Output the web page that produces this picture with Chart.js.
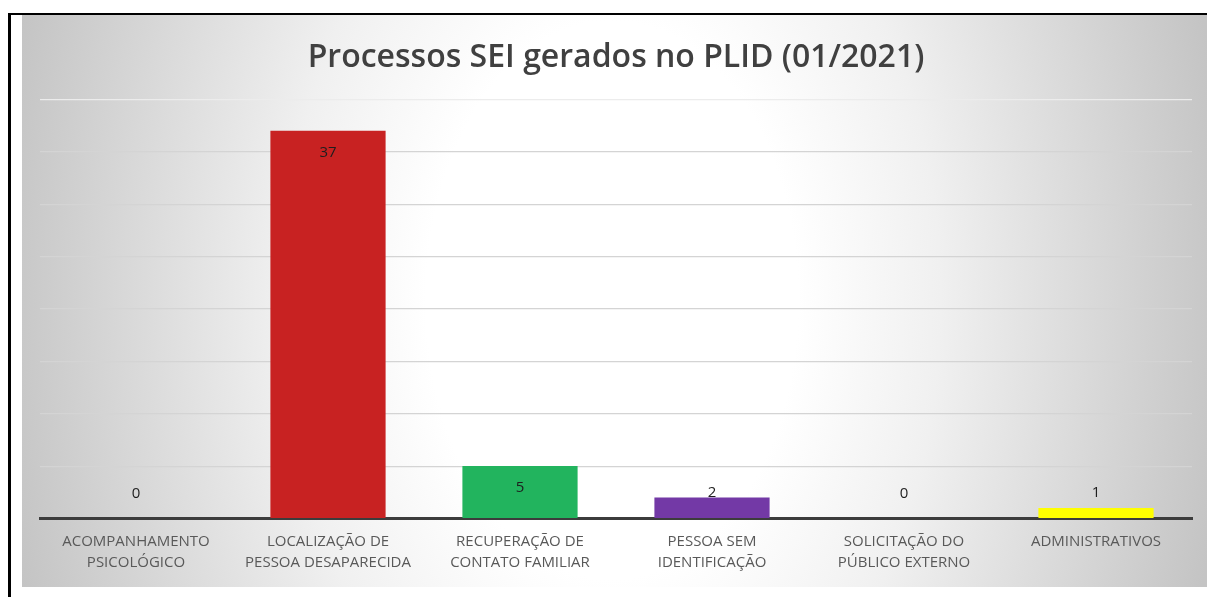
<!DOCTYPE html>
<html lang="pt-BR">
<head>
<meta charset="utf-8">
<title>Processos SEI gerados no PLID (01/2021)</title>
<script src="https://cdn.jsdelivr.net/npm/chart.js@4/dist/chart.umd.min.js"></script>
<style>
  html, body { margin:0; padding:0; background:#fff; }
  #wrap { width:1207px; height:597px; position:relative; }
</style>
</head>
<body>
<div id="wrap"><canvas id="plidChart"></canvas></div>
<script>
// Dados do gráfico
const categorias = [
  ['ACOMPANHAMENTO', 'PSICOLÓGICO'],
  ['LOCALIZAÇÃO DE', 'PESSOA DESAPARECIDA'],
  ['RECUPERAÇÃO DE', 'CONTATO FAMILIAR'],
  ['PESSOA SEM', 'IDENTIFICAÇÃO'],
  ['SOLICITAÇÃO DO', 'PÚBLICO EXTERNO'],
  ['ADMINISTRATIVOS']
];
const processos = [0, 37, 5, 2, 0, 1];
const cores = ['#5b9bd5', '#c82222', '#22b45e', '#7339a6', '#ffff00', '#ffff00'];
const eixoY = { min: 0, max: 40, passo: 5 };

// fundo: moldura preta + gradiente cinza da área do gráfico
const fundoPlugin = {
  id: 'fundo',
  beforeDraw(chart){
    const c = chart.ctx;
    c.save();
    c.fillStyle = '#fff';
    c.fillRect(0, 0, chart.width, chart.height);
    c.fillStyle = '#000';
    c.fillRect(8, 13, 3, chart.height - 13);
    c.fillRect(8, 13, chart.width - 8, 2);
    c.translate(612, 300);
    c.scale(1, 1.5);
    const g = c.createRadialGradient(0, 0, 0, 0, 0, 620);
    g.addColorStop(0, '#ffffff');
    g.addColorStop(0.3, '#ffffff');
    g.addColorStop(0.53, '#f0f0f0');
    g.addColorStop(0.7, '#e0e0e0');
    g.addColorStop(1, '#c4c4c4');
    c.fillStyle = g;
    c.fillRect(22 - 612, (15 - 300) / 1.5, 1207 - 22, (587 - 15) / 1.5);
    c.restore();
  }
};

// rótulos de valor ("extremidade interna" do Excel)
const rotulosPlugin = {
  id: 'rotulos',
  afterDatasetsDraw(chart){
    const c = chart.ctx;
    const meta = chart.getDatasetMeta(0);
    c.save();
    c.font = '15px "Open Sans", sans-serif';
    c.fillStyle = '#1e1e1e';
    c.textAlign = 'center';
    c.textBaseline = 'middle';
    meta.data.forEach((bar, i) => {
      const y = Math.min(bar.y + 22, bar.base - 25);
      c.fillText(String(processos[i]), bar.x, y);
    });
    c.restore();
  }
};

const ctx = document.getElementById('plidChart');
new Chart(ctx, {
  type: 'bar',
  data: {
    labels: categorias,
    datasets: [{ data: processos, backgroundColor: cores, borderWidth: 0,
                 categoryPercentage: 1, barPercentage: 0.6 }]
  },
  options: {
    responsive: true,
    maintainAspectRatio: false,
    animation: false,
    layout: { padding: { left: 40, right: 15, top: 0, bottom: 19 } },
    plugins: {
      legend: { display: false },
      tooltip: { enabled: false },
      title: {
        display: true,
        text: 'Processos SEI gerados no PLID (01/2021)',
        color: '#404040',
        font: { family: '"Open Sans", sans-serif', size: 32, weight: '600' },
        padding: { top: 39, bottom: 22 }
      }
    },
    scales: {
      x: {
        grid: { display: false },
        border: { display: true, color: '#3c3c3c', width: 3 },
        ticks: {
          color: '#595959', maxRotation: 0, autoSkip: false, padding: 4,
          font: { family: '"Open Sans", sans-serif', size: 15, lineHeight: 1.45 }
        }
      },
      y: {
        min: eixoY.min, max: eixoY.max,
        ticks: { display: false, stepSize: eixoY.passo },
        border: { display: false },
        grid: {
          drawTicks: false,
          lineWidth: 1.2,
          color: c => c.tick.value === eixoY.max ? '#ececec' : '#d4d4d4'
        }
      }
    }
  },
  plugins: [fundoPlugin, rotulosPlugin]
});
</script>
</body>
</html>
